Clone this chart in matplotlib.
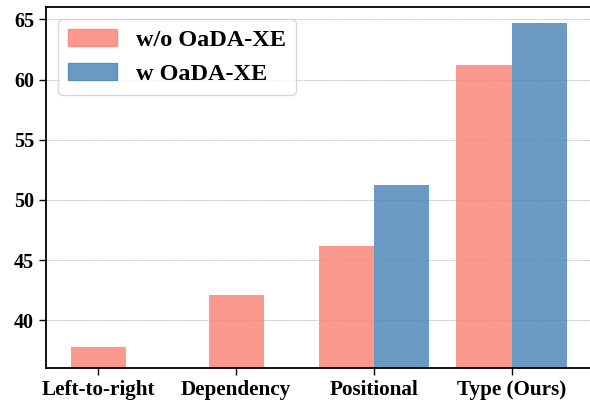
import numpy as np
import matplotlib
matplotlib.use('Agg')
import matplotlib.pyplot as plt
from matplotlib.patches import Patch

plt.rcParams['font.family'] = ['Liberation Serif', 'DejaVu Serif']
plt.rcParams['font.weight'] = 'bold'

# data
categories = ['Left-to-right', 'Dependency', 'Positional', 'Type (Ours)']
without_xe = [37.8, 42.1, 46.2, 61.2]
with_xe = [None, None, 51.2, 64.7]
series_names = ['w/o OaDA-XE', 'w OaDA-XE']

width = 0.4
x = np.arange(len(categories))

fig = plt.figure(figsize=(5.9, 4.01), dpi=100)
ax = fig.add_axes([0.078, 0.0815, 0.9245, 0.9003])
ax.grid(axis='y', linestyle=(0, (2, 1)), color='#bbbbbb', linewidth=0.6, zorder=0)
ax.set_axisbelow(True)

# single bar centred when there is no "with" value, otherwise side by side
for i in range(len(categories)):
    if with_xe[i] is None:
        ax.bar(x[i], without_xe[i], width, color='salmon', alpha=0.8, zorder=2)
    else:
        ax.bar(x[i] - width / 2, without_xe[i], width, color='salmon', alpha=0.8, zorder=2)
        ax.bar(x[i] + width / 2, with_xe[i], width, color='steelblue', alpha=0.8, zorder=2)

handles = [Patch(color='salmon', alpha=0.8), Patch(color='steelblue', alpha=0.8)]
ax.legend(handles, series_names, loc='upper left', prop={'size': 17.5, 'weight': 'bold'},
          handlelength=2.0, handletextpad=0.8)

ax.set_xticks(x)
ax.set_xticklabels(categories, fontsize=15.2, fontweight='bold')
ax.set_yticks([40, 45, 50, 55, 60, 65])
ax.tick_params(axis='y', labelsize=14.5)
ax.tick_params(length=5, width=1)
ax.set_ylim(36, 66)
ax.set_xlim(-0.38, 3.58)
ax.spines['right'].set_visible(False)
for s in ['left', 'bottom', 'top']:
    ax.spines[s].set_linewidth(1.3)

fig.savefig('out.png', dpi=100)
